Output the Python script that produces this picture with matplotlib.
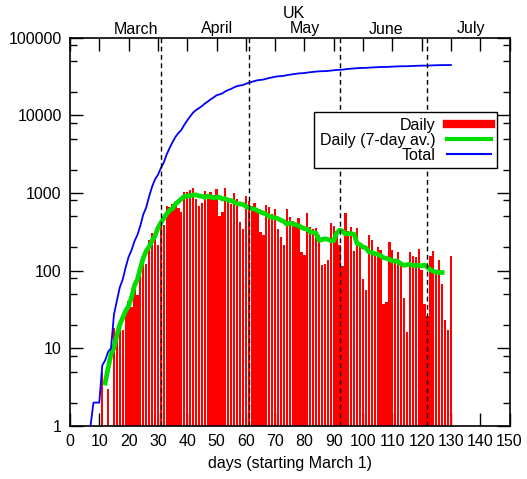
import numpy as np
import matplotlib
matplotlib.use("Agg")
import matplotlib.pyplot as plt
from matplotlib.ticker import FixedLocator, NullFormatter, FixedFormatter
from matplotlib.lines import Line2D
from matplotlib.transforms import blended_transform_factory

# ---------------- data ----------------
first_day = 7
daily = [1, 1, 0, 0, 4, 1, 2, 1,
         17, 14, 20, 16, 33, 40, 33, 56, 48, 90, 150, 120,
         250, 300, 294, 214, 374, 382,
         670, 652, 714, 760, 644, 568, 1038, 1034, 1103, 1152,
         839, 686, 744, 1044, 842, 1029, 935, 1115, 498, 559,
         1172, 837, 727, 1005, 843, 420, 338, 909, 795, 674,
         739, 621, 315, 288, 693, 649, 539, 626, 346, 268,
         210, 627, 494, 428, 384, 468, 170, 160, 545, 363,
         338, 351, 282, 118, 121, 134, 412, 377, 324, 215, 113,
         556, 324, 359, 176, 357, 204, 77, 55, 286, 245,
         151, 202, 181, 36, 38, 233, 184, 135, 173, 128,
         43, 15, 171, 154, 149, 186, 100, 36, 25, 155,
         176, 89, 137, 67, 22, 16, 155]
avg_first_day = 12
month_names = ["March", "April", "May", "June", "July"]
month_label_x = [22.6, 50.3, 80.0, 107.9, 137.0]
month_bounds = [31, 61, 92, 122]
x_ticks = list(range(0, 151, 10))
y_major = [1, 10, 100, 1000, 10000, 100000]
y_minor_mult = [2, 5, 8]

# ---------------- derived ----------------
days = np.arange(first_day, first_day + len(daily))
vals = np.array(daily, dtype=float)
total = np.cumsum(vals)
avg = np.convolve(vals, np.ones(7) / 7.0, mode="same")
valid = (days >= avg_first_day) & (days <= days[-1] - 3)

plt.rcParams["font.family"] = ["Liberation Sans", "DejaVu Sans"]
plt.rcParams["font.size"] = 11.5

fig = plt.figure(figsize=(5.27, 4.79), dpi=100)
ax = fig.add_axes([70 / 527, 1 - 426 / 479, (509.5 - 70) / 527, (426 - 37.5) / 479])

pos = vals > 1
ax.bar(days[pos], vals[pos], width=0.78, bottom=1, color="#ff0000",
       linewidth=0, zorder=2)
ax.plot(days[valid], avg[valid], color="#00dd00", lw=3.4, zorder=4,
        solid_joinstyle="round")
ax.plot(days[total > 0], total[total > 0], color="#0000ff", lw=1.3, zorder=5)

for b in month_bounds:
    ax.axvline(b, color="black", lw=1.0, ls=(0, (3.5, 2.5)), zorder=6)

ax.set_yscale("log")
ax.set_xlim(0, 150)
ax.set_ylim(1, 100000)

ax.xaxis.set_major_locator(FixedLocator(x_ticks))
ax.set_xticklabels([str(t) for t in x_ticks])
ax.yaxis.set_major_locator(FixedLocator(y_major))
ax.yaxis.set_major_formatter(FixedFormatter([str(v) for v in y_major]))
minors = [m * v for v in y_major[:-1] for m in y_minor_mult]
ax.yaxis.set_minor_locator(FixedLocator(minors))
ax.yaxis.set_minor_formatter(NullFormatter())

ax.tick_params(which="both", direction="in", top=True, right=True, width=1.0,
               colors="black")
ax.tick_params(which="major", length=9.5)
ax.tick_params(which="minor", length=5)
ax.tick_params(axis="x", pad=6)
ax.tick_params(axis="y", pad=6)
for s in ax.spines.values():
    s.set_linewidth(1.2)

ax.set_xlabel("days (starting March 1)", labelpad=5)

tr = blended_transform_factory(ax.transData, fig.transFigure)
for name, xm in zip(month_names, month_label_x):
    ax.text(xm, 1 - 29 / 479, name, transform=tr, ha="center", va="center")
ax.text(76.4, 1 - 14 / 479, "UK", transform=tr, ha="center", va="center")

handles = [Line2D([], [], color="#ff0000", lw=6),
           Line2D([], [], color="#00dd00", lw=3),
           Line2D([], [], color="#0000ff", lw=1.5)]
leg = ax.legend(handles, ["Daily", "Daily (7-day av.)", "Total"],
                loc="upper right", bbox_to_anchor=(0.9716, 0.808),
                markerfirst=False, fancybox=False, framealpha=1,
                edgecolor="black", handlelength=2.8, borderpad=0.35,
                labelspacing=0.0, handletextpad=0.7, borderaxespad=0)
leg.get_frame().set_linewidth(1.0)
leg.set_zorder(10)

fig.savefig("out.png", dpi=100)
